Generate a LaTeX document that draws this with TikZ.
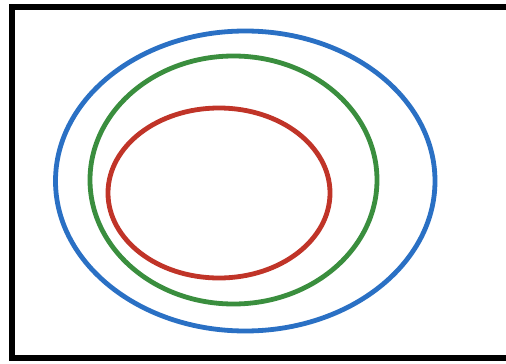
\documentclass[tikz,border=0pt]{standalone}
\definecolor{ringblue}{RGB}{42,112,196}
\definecolor{ringgreen}{RGB}{58,142,62}
\definecolor{ringred}{RGB}{192,52,40}
\tikzset{ring/.style={line width=4.8pt}}
\begin{document}
\begin{tikzpicture}[x=1pt,y=-1pt]
\useasboundingbox[fill=white] (0,0) rectangle (506,364);
\draw[line width=6pt, black] (11.5,6.5) rectangle (515,358);
\draw[ring, ringblue] (245.25,181) ellipse [x radius=189.75, y radius=150];
\draw[ring, ringgreen] (233.5,180) ellipse [x radius=143.5, y radius=124];
\draw[ring, ringred] (219,193) ellipse [x radius=111, y radius=85];
\end{tikzpicture}
\end{document}
